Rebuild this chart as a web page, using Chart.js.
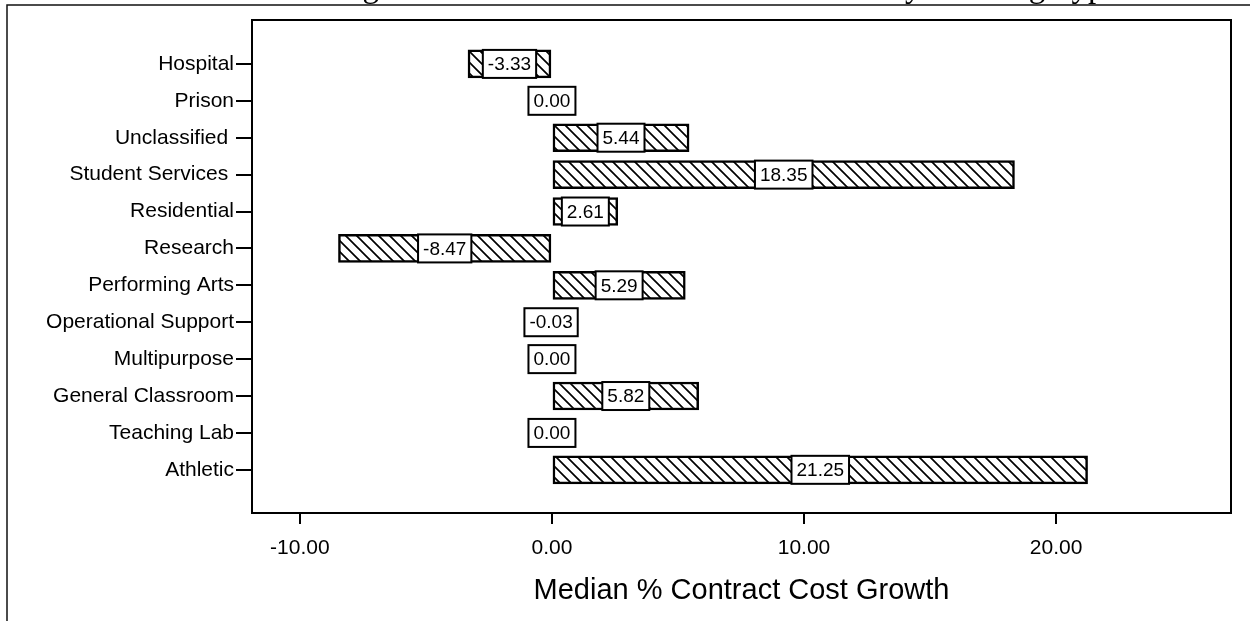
<!DOCTYPE html>
<html>
<head>
<meta charset="utf-8">
<script src="https://cdn.jsdelivr.net/npm/chart.js@4/dist/chart.umd.min.js"></script>
<style>
    html, body { margin: 0; padding: 0; background: #fff; }
    #wrap { width: 1250px; height: 621px; }
</style>
</head>
<body>
<div id="wrap"><canvas id="growthChart" width="1250" height="621"></canvas></div>
<script>
// Chart data
const buildingTypes = ['Hospital', 'Prison', 'Unclassified ', 'Student Services ', 'Residential', 'Research',
    'Performing Arts', 'Operational Support', 'Multipurpose', 'General Classroom', 'Teaching Lab', 'Athletic'];
const medianGrowth = [-3.33, 0.00, 5.44, 18.35, 2.61, -8.47, 5.29, -0.03, 0.00, 5.82, 0.00, 21.25];
const xTickValues = [-10, 0, 10, 20];
const axisTitle = 'Median % Contract Cost Growth';
const figureTitle = 'Figure 12: Median Contract Cost Growth by Building Type';

const sansFont = '"Liberation Sans", Arial, sans-serif';

function makeHatch() {
    const size = 11;
    const tile = document.createElement('canvas');
    tile.width = size;
    tile.height = size;
    const p = tile.getContext('2d');
    p.fillStyle = '#fff';
    p.fillRect(0, 0, size, size);
    p.strokeStyle = '#000';
    p.lineWidth = 1.7;
    p.beginPath();
    for (let k = -1; k <= 1; k++) {
        p.moveTo(-size, -size + k * size);
        p.lineTo(2 * size, 2 * size + k * size);
    }
    p.stroke();
    return p.createPattern(tile, 'repeat');
}

// page frame and the clipped figure caption above it
const framePlugin = {
    id: 'frame',
    beforeDraw(chart) {
        const ctx = chart.ctx;
        ctx.save();
        ctx.fillStyle = '#000';
        ctx.font = '33px "Liberation Serif", "Times New Roman", serif';
        ctx.textAlign = 'left';
        ctx.textBaseline = 'alphabetic';
        ctx.fillText(figureTitle, 335, -3);
        ctx.strokeStyle = '#111';
        ctx.lineWidth = 1.5;
        ctx.beginPath();
        ctx.moveTo(1250, 5);
        ctx.lineTo(7, 5);
        ctx.lineTo(7, 621);
        ctx.stroke();
        ctx.restore();
    },
    afterDraw(chart) {
        const a = chart.chartArea;
        const ctx = chart.ctx;
        ctx.save();
        ctx.strokeStyle = '#000';
        ctx.lineWidth = 2;
        ctx.strokeRect(a.left, a.top, a.right - a.left, a.bottom - a.top);
        ctx.restore();
    }
};

// boxed value label in the middle of each bar
const valueLabels = {
    id: 'valueLabels',
    afterDatasetsDraw(chart) {
        const ctx = chart.ctx;
        const meta = chart.getDatasetMeta(0);
        ctx.save();
        ctx.font = '19px ' + sansFont;
        ctx.textAlign = 'center';
        ctx.textBaseline = 'middle';
        meta.data.forEach((bar, i) => {
            const text = medianGrowth[i].toFixed(2);
            const cx = (bar.x + bar.base) / 2;
            const w = ctx.measureText(text).width + 10;
            const h = bar.height;
            ctx.fillStyle = '#fff';
            ctx.fillRect(cx - w / 2, bar.y - h / 2, w, h);
            ctx.strokeStyle = '#000';
            ctx.lineWidth = 2;
            ctx.strokeRect(cx - w / 2, bar.y - h / 2, w, h);
            ctx.fillStyle = '#000';
            ctx.fillText(text, cx, bar.y + 1);
        });
        ctx.restore();
    }
};

function initChart() {
    const ctx = document.getElementById('growthChart').getContext('2d');
    new Chart(ctx, {
        type: 'bar',
        data: {
            datasets: [{
                data: medianGrowth.map((v, i) => ({ x: v, y: i })),
                backgroundColor: makeHatch(),
                borderColor: '#000',
                borderWidth: 2.5,
                borderSkipped: false,
                barThickness: 28
            }]
        },
        options: {
            indexAxis: 'y',
            responsive: false,
            animation: false,
            layout: { padding: { left: 0, top: 20, right: 19, bottom: 0 } },
            plugins: {
                legend: { display: false },
                tooltip: { enabled: false }
            },
            scales: {
                x: {
                    type: 'linear',
                    min: -11.9,
                    max: 26.94,
                    afterBuildTicks: s => { s.ticks = xTickValues.map(v => ({ value: v })); },
                    afterFit: s => { s.height = 108; },
                    ticks: {
                        callback: v => Number(v).toFixed(2),
                        color: '#000',
                        font: { family: sansFont, size: 21 },
                        padding: 12,
                        maxRotation: 0,
                        autoSkip: false
                    },
                    grid: { drawOnChartArea: false, tickLength: 11, color: '#000', lineWidth: 2 },
                    border: { display: false },
                    title: {
                        display: true,
                        text: axisTitle,
                        color: '#000',
                        font: { family: sansFont, size: 29 },
                        padding: { top: 4, bottom: 13 }
                    }
                },
                y: {
                    type: 'linear',
                    reverse: true,
                    offset: false,
                    min: -1.19,
                    max: 12.17,
                    afterBuildTicks: s => { s.ticks = buildingTypes.map((n, i) => ({ value: i })); },
                    afterFit: s => { s.width = 252; },
                    ticks: {
                        callback: v => buildingTypes[v],
                        color: '#000',
                        font: { family: sansFont, size: 21 },
                        padding: 2,
                        autoSkip: false
                    },
                    grid: { offset: false, drawOnChartArea: false, tickLength: 16, color: '#000', lineWidth: 2 },
                    border: { display: false }
                }
            }
        },
        plugins: [framePlugin, valueLabels]
    });
}

initChart();
</script>
</body>
</html>
